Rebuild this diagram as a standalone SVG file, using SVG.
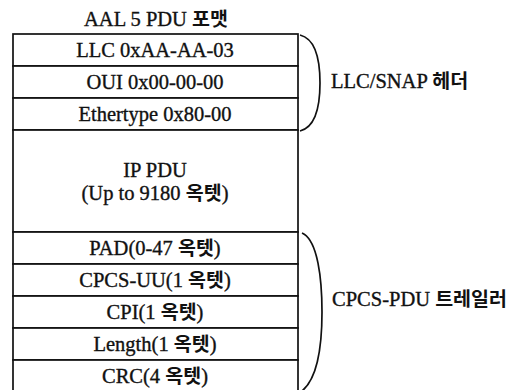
<svg xmlns="http://www.w3.org/2000/svg" width="532" height="390" viewBox="0 0 532 390">
<style>
.t{font-family:"Liberation Serif","Times New Roman",serif;font-size:20.5px;fill:#111;stroke:#111;stroke-width:0.35;}
.c{text-anchor:middle;}
.k{font-family:"Noto Sans CJK KR",sans-serif;font-size:19.5px;font-weight:700;stroke-width:0;}
.box{fill:#fff;stroke:#111;stroke-width:1.7;}
.br{fill:none;stroke:#111;stroke-width:1.7;}
</style>
<rect width="532" height="390" fill="#fff"/>
<text id="title" class="t c" x="156" y="26">AAL 5 PDU <tspan class="k">포맷</tspan></text>
<g id="llc"><rect class="box" x="13" y="34" width="285" height="32"/><text class="t c" x="155" y="57">LLC 0xAA-AA-03</text></g>
<g id="oui"><rect class="box" x="13" y="66" width="285" height="32"/><text class="t c" x="155" y="89">OUI 0x00-00-00</text></g>
<g id="ethertype"><rect class="box" x="13" y="98" width="285" height="32"/><text class="t c" x="155" y="121">Ethertype 0x80-00</text></g>
<g id="ippdu"><rect class="box" x="13" y="130" width="285" height="102"/><text class="t c" x="155" y="177">IP PDU</text><text class="t c" x="155" y="200">(Up to 9180 <tspan class="k">옥텟</tspan>)</text></g>
<g id="pad"><rect class="box" x="13" y="232" width="285" height="32"/><text class="t c" x="155" y="255">PAD(0-47 <tspan class="k">옥텟</tspan>)</text></g>
<g id="cpcsuu"><rect class="box" x="13" y="264" width="285" height="32"/><text class="t c" x="155" y="287">CPCS-UU(1 <tspan class="k">옥텟</tspan>)</text></g>
<g id="cpi"><rect class="box" x="13" y="296" width="285" height="32"/><text class="t c" x="155" y="319">CPI(1 <tspan class="k">옥텟</tspan>)</text></g>
<g id="length"><rect class="box" x="13" y="328" width="285" height="32"/><text class="t c" x="155" y="351">Length(1 <tspan class="k">옥텟</tspan>)</text></g>
<g id="crc"><rect class="box" x="13" y="360" width="285" height="40"/><text class="t c" x="155" y="383">CRC(4 <tspan class="k">옥텟</tspan>)</text></g>
<g id="connectors">
<path class="br" d="M300,35 C316,39 320,62 320,83 C320,104 316,127 300,131"/>
<path class="br" d="M302,233 C318,240 322,280 322,312 C322,344 318,378 302,391"/>
</g>
<g id="labels">
<text class="t" x="331" y="88">LLC/SNAP <tspan class="k">헤더</tspan></text>
<text class="t" x="332" y="306">CPCS-PDU <tspan class="k">트레일러</tspan></text>
</g>
</svg>
